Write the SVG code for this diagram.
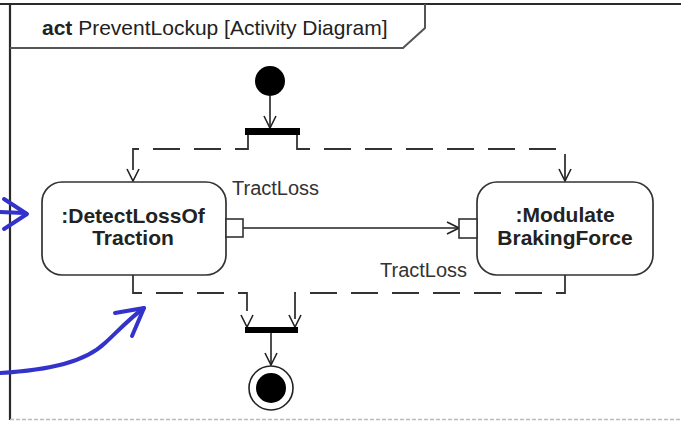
<svg xmlns="http://www.w3.org/2000/svg" width="681" height="422" viewBox="0 0 681 422">
<defs>
<style>
.frame{fill:none;stroke:#2a2a2a;stroke-width:2.2}
.tab{fill:none;stroke:#555;stroke-width:2}
.node{fill:#fff;stroke:#333;stroke-width:1.7}
.pin{fill:#fff;stroke:#333;stroke-width:1.6}
.flow{fill:none;stroke:#222;stroke-width:1.6}
.obj{fill:none;stroke:#333;stroke-width:1.8;stroke-dasharray:27 14}
.lbl{font-family:"Liberation Sans",Arial,sans-serif;font-size:20px;fill:#333}
.nt{font-family:"Liberation Sans",Arial,sans-serif;font-size:21px;font-weight:bold;fill:#222;text-anchor:middle}
.hdr{font-family:"Liberation Sans",Arial,sans-serif;font-size:21px;fill:#222}
.blue{fill:none;stroke:#3333cc;stroke-width:4;stroke-linecap:round;stroke-linejoin:round}
</style>
<marker id="open" viewBox="0 0 14 14" refX="13" refY="7" markerWidth="14" markerHeight="14" markerUnits="userSpaceOnUse" orient="auto">
<path d="M1,1 L13,7 L1,13" fill="none" stroke="#222" stroke-width="1.6"/>
</marker>
</defs>

<g id="frame">
<line x1="0" y1="4" x2="681" y2="4" class="frame"/>
<line x1="10" y1="4" x2="10" y2="420" class="frame"/>
<line x1="10" y1="419.5" x2="681" y2="419.5" stroke="#bbb" stroke-width="1.5" stroke-dasharray="4 2"/>
<path d="M425,4 L425,28 L403,48 L10,48" class="tab"/>
<text x="42" y="35" class="hdr"><tspan font-weight="bold">act</tspan> PreventLockup [Activity Diagram]</text>
</g>

<g id="connectors">
<line x1="270" y1="96" x2="270" y2="128" class="flow" marker-end="url(#open)"/>
<path d="M248,135 L248,149 L133,149 L133,181" class="obj" marker-end="url(#open)"/>
<path d="M297,135 L297,149 L565,149 L565,181" class="obj" marker-end="url(#open)"/>
<line x1="243" y1="228" x2="459" y2="228" class="flow" marker-end="url(#open)"/>
<path d="M133,275 L133,293 L247,293 L247,327" class="obj" marker-end="url(#open)"/>
<path d="M565,275 L565,293 L295,293 L295,327" class="obj" marker-end="url(#open)"/>
<line x1="271" y1="333" x2="271" y2="365" class="flow" marker-end="url(#open)"/>
<text x="232" y="195" class="lbl">TractLoss</text>
<text x="380" y="277" class="lbl">TractLoss</text>
</g>

<g id="initial">
<circle cx="270" cy="81" r="15" fill="#000"/>
</g>

<g id="fork">
<rect x="245" y="128" width="55" height="7" fill="#000"/>
</g>

<g id="detectLossOfTraction">
<rect x="42" y="182" width="184" height="93" rx="20" ry="20" class="node"/>
<rect x="226" y="219" width="17" height="18" class="pin"/>
<text x="133" y="223" class="nt">:DetectLossOf</text>
<text x="133" y="245" class="nt">Traction</text>
</g>

<g id="modulateBrakingForce">
<rect x="477" y="182" width="176" height="93" rx="20" ry="20" class="node"/>
<rect x="459" y="219" width="18" height="19" class="pin"/>
<text x="565" y="222" class="nt">:Modulate</text>
<text x="565" y="245" class="nt">BrakingForce</text>
</g>

<g id="join">
<rect x="245" y="327" width="53" height="6" fill="#000"/>
</g>

<g id="final">
<circle cx="271" cy="388" r="22" fill="#fff" stroke="#222" stroke-width="1.6"/>
<circle cx="271" cy="388" r="15" fill="#000"/>
</g>

<g id="annotations">
<path d="M0,212 L24,213" class="blue"/>
<path d="M4,199 L27,214 L4,229" class="blue"/>
<path d="M0,373 C50,370 85,362 105,343 C118,331 130,318 144,308" class="blue"/>
<path d="M115,313 L144,308 L132,336" class="blue"/>
</g>
</svg>
